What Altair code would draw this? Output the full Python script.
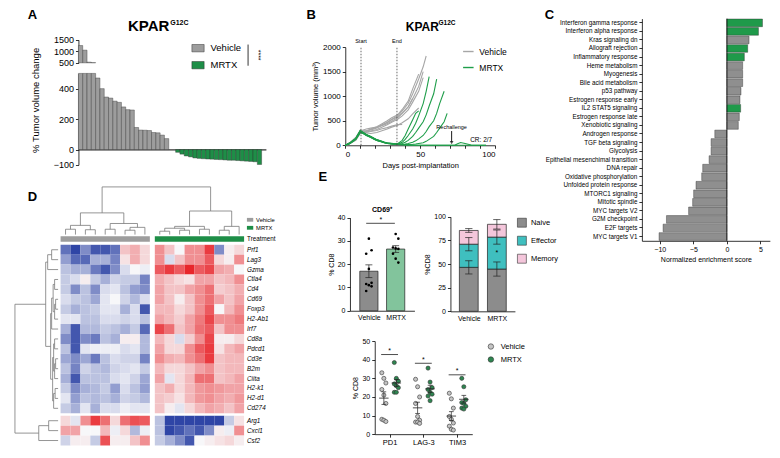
import altair as alt
import pandas as pd

FONT = "Liberation Sans"
W, H = 764, 442


def X(rx):
    return (rx - 2) * 0.992


def Y(ry):
    return (ry - 2) * 0.962


# ---------------- DATA ----------------
# Panel A: % tumour volume change per mouse (waterfall)
a_vehicle = [1250, 1050, 530, 510, 470, 400, 345, 338, 318, 310, 280, 262, 260,
             145, 128, 127, 125, 112, 110, 95, 72]
a_mrtx = [-18, -30, -42, -48, -55, -58, -60, -62, -63, -65, -66, -68, -70, -70,
          -72, -74, -76, -78, -80, -98]

# Panel B: growth curves
b_vehicle_days = [0, 3, 7, 10, 14, 17, 21, 24, 28, 31, 35, 38, 42, 45, 49, 52, 54]
b_vehicle = [
    [0, 40, 130, 280, 300, 320, 360, 410, 470, 530, 600, 700, 850, 1050, 1350, 1600, 1820],
    [0, 50, 150, 300, 280, 330, 380, 430, 500, 560, 620, 730, 900, 1150, 1450],
    [0, 30, 110, 250, 270, 290, 320, 360, 420, 470, 530, 600, 720, 880, 1100, 1380],
    [0, 45, 140, 290, 330, 350, 370, 400, 440, 490, 560, 650, 780, 960],
    [0, 35, 100, 240, 260, 280, 300, 330, 360, 390, 420, 425],
    [0, 55, 160, 310, 250, 240, 260, 290, 330, 370, 410, 460, 540, 640, 760],
    [0, 40, 120, 260, 290, 310, 350, 400, 460, 520, 580, 660, 780, 950, 1200, 1500],
]
b_mrtx_days = [0, 3, 7, 10, 12, 14, 17, 19, 21, 24, 26, 28, 31, 33, 35, 38, 40, 42, 45,
               47, 49, 52, 54, 56, 59, 61, 63, 66, 68, 70, 73, 75, 77, 80, 84, 87, 91, 94]
b_mrtx = [
    [0, 45, 140, 300, 260, 220, 180, 150, 115, 85, 65, 48, 38, 32, 30, 100, 200, 330, 520, 650, 700],
    [0, 38, 125, 270, 245, 210, 170, 135, 105, 78, 58, 44, 34, 29, 28, 60, 120, 200, 330, 450, 600,
     850, 1100, 1400],
    [0, 42, 135, 290, 255, 215, 175, 140, 110, 80, 60, 45, 35, 28, 25, 35, 60, 100, 180, 260, 350,
     480, 620, 800, 1050, 1350],
    [0, 35, 120, 260, 240, 205, 165, 130, 100, 72, 52, 38, 28, 22, 20, 20, 25, 35, 60, 90, 130,
     200, 280, 380, 500, 650, 850, 1100],
    [0, 40, 130, 280, 250, 210, 170, 138, 108, 78, 56, 40, 30, 24, 20, 15, 15, 15, 20, 25, 35,
     50, 80, 120, 180, 260, 350, 480, 650],
    [0, 44, 138, 295, 258, 218, 178, 142, 112, 82, 60, 44, 32, 25, 18, 12, 8, 5, 3, 2, 0,
     0, 0, 0, 0, 0, 0, 0, 0, 0, 0, 30, 55, 35, 5, 0, 0, 0],
    [0, 36, 122, 265, 238, 200, 160, 128, 98, 70, 50, 36, 26, 20, 15, 10, 6, 4, 2, 0, 0,
     0, 0, 0, 0, 0, 0, 0, 0, 0, 0, 0, 0, 0, 0, 0, 0, 0],
]
b_event_days = [10.5, 34.5]
b_event_labels = ["Start", "End"]
b_rechallenge_day = 71
b_cr_text = "CR: 2/7"

# Panel C: GSEA normalized enrichment scores
c_terms = ["Interferon gamma response", "Interferon alpha response", "Kras signaling dn",
           "Allograft rejection", "Inflammatory response", "Heme metabolism", "Myogenesis",
           "Bile acid metabolism", "p53 pathway", "Estrogen response early",
           "IL2 STAT5 signaling", "Estrogen response late", "Xenobiotic signaling",
           "Androgen response", "TGF beta signaling", "Glycolysis",
           "Epithelial mesenchimal transition", "DNA repair", "Oxidative phosphorylation",
           "Unfolded protein response", "MTORC1 signaling", "Mitotic spindle",
           "MYC targets V2", "G2M checkpoint", "E2F targets", "MYC targets V1"]
c_nes = [5.3, 4.7, 3.3, 3.1, 2.6, 2.35, 2.35, 2.35, 2.1, 1.95, 2.05, 1.85, 1.7,
         -1.8, -2.35, -2.35, -2.65, -3.6, -3.75, -4.6, -4.95, -5.1, -5.7, -9.0, -9.5, -10.1]
c_green_terms = ["Interferon gamma response", "Interferon alpha response", "Allograft rejection",
                 "Inflammatory response", "IL2 STAT5 signaling"]

# Panel D: heatmap z-scores (rows = genes, 9 vehicle + 9 MRTX columns)
d_genes = ["Prf1", "Lag3", "Gzma", "Ctla4", "Cd4", "Cd69", "Foxp3", "H2-Ab1", "Irf7", "Cd8a",
           "Pdcd1", "Cd3e", "B2m", "Ciita", "H2-k1", "H2-d1", "Cd274", "Arg1", "Cxcl1", "Csf2"]
d_vehicle = [
    [-1.5, -2.0, -1.2, -1.8, -1.8, -1.5, 0.5, 0.7, 0.3],
    [-1.0, -1.6, -1.6, -0.8, -0.8, -1.3, 0.2, 0.7, 0.3],
    [-0.6, -0.8, -0.8, -1.4, -1.8, -1.2, -0.3, 0.0, -0.1],
    [-0.5, -0.3, 0.1, -0.5, -0.8, -0.4, -0.5, -0.5, -1.3],
    [-0.5, -1.2, -0.6, -1.2, -0.3, -0.2, -0.6, -1.0, -1.2],
    [-0.3, -0.5, -0.6, -0.9, -0.2, 0.0, -0.4, -0.7, -0.3],
    [-0.5, -0.8, -0.6, -0.5, -0.2, -0.2, -0.8, -0.3, -1.8],
    [-0.2, -0.2, -0.6, -0.6, -0.3, -0.3, -0.4, -0.3, -0.6],
    [-0.8, -1.8, -0.7, -0.7, -0.5, -0.6, -0.8, -0.5, -1.6],
    [-1.2, -1.8, -1.2, -1.4, -0.6, -0.8, 0.1, 0.1, -0.7],
    [-0.6, -1.8, -0.2, -0.1, -0.1, -0.1, -0.3, -0.2, -0.7],
    [-0.9, -1.2, -0.9, -1.4, -0.6, -0.3, -0.4, -0.4, -1.3],
    [-0.6, -1.3, -0.4, -0.6, -0.7, -0.4, -0.3, -0.2, -0.5],
    [-0.8, -1.8, -0.6, -0.6, -0.6, -0.3, -0.2, -0.4, -0.9],
    [-0.5, -1.2, -0.8, -0.7, -0.5, -1.0, -0.3, -0.6, -1.0],
    [-0.2, -1.0, -0.6, -0.7, -0.6, -0.8, -0.4, -0.5, -0.7],
    [-0.5, -0.8, -0.2, -0.8, -0.3, -0.3, -0.1, -0.2, -0.2],
    [0.3, -0.2, 1.0, 1.8, 1.3, 0.3, 1.3, 1.6, 1.5],
    [0.8, 0.8, 0.0, 0.0, 0.6, -0.1, 0.3, -0.7, -0.1],
    [-0.4, 0.1, 0.1, -0.5, 1.6, 0.1, 0.1, 0.5, 1.0],
]
d_mrtx = [
    [1.0, 0.5, 0.0, 1.0, 1.0, 1.8, -1.2, 0.1, 0.3],
    [1.0, -0.3, 0.5, 1.0, 1.0, 1.5, 0.3, 0.1, 1.0],
    [1.5, 1.8, 1.5, 2.0, 1.5, 1.7, 0.8, 0.7, 0.0],
    [0.7, 0.5, 0.3, 0.2, 0.8, 0.8, 0.5, 0.6, 1.0],
    [0.8, 0.5, 0.5, 0.8, 1.0, 1.3, 0.4, 0.5, 0.7],
    [0.8, 0.5, 0.1, 0.5, 1.0, 1.3, 0.8, 0.5, 0.8],
    [0.6, 0.6, 0.3, 0.5, 1.0, 1.5, 0.0, 0.6, 1.0],
    [0.8, 0.6, 0.4, 0.8, 1.2, 1.7, 1.0, 1.0, 1.2],
    [1.7, 1.3, 0.5, 0.8, 1.3, 1.5, 0.5, 1.0, 1.0],
    [0.6, 0.3, -0.3, 0.4, 1.0, 1.7, 0.1, 0.1, 0.3],
    [0.8, 0.3, 0.3, 1.0, 1.5, 1.8, 0.2, 0.6, 0.8],
    [1.0, 0.7, 0.6, 1.0, 1.3, 1.8, 0.5, 0.6, 0.6],
    [0.6, 0.3, 0.3, 0.5, 0.8, 1.0, 0.5, 0.6, 0.6],
    [0.8, -0.2, 0.3, 0.6, 1.3, 1.3, 0.5, 0.6, 0.8],
    [0.5, 0.7, 0.3, 0.6, 0.9, 1.0, 0.9, 0.8, 0.8],
    [0.5, 0.4, 0.2, 0.6, 0.9, 1.0, 0.8, 0.7, 0.9],
    [0.5, 0.1, -0.2, 0.3, 0.6, 0.8, 0.7, 0.5, 0.8],
    [-0.6, -2.0, -2.0, -2.0, -2.0, -2.0, -2.0, -0.5, 0.2],
    [-0.6, -2.0, -1.8, -1.5, -1.8, -1.2, 0.1, -0.1, 1.0],
    [-0.5, -0.8, -1.2, -1.8, 0.0, 0.1, 0.2, 0.3, 0.1],
]
# dendrograms: (child a, child b, merge height)
d_row_merges = [(0, 1, -0.9), (20, 2, -1.3), (3, 4, -0.6), (5, 6, -0.5), (23, 7, -0.6),
                (22, 24, -0.75), (25, 8, -0.9), (9, 10, -0.6), (11, 12, -0.5), (28, 13, -0.6),
                (27, 29, -0.7), (14, 15, -0.55), (31, 16, -0.7), (30, 32, -0.8), (26, 33, -1.0),
                (21, 34, -1.5), (17, 18, -1.2), (36, 19, -2.2), (35, 37, -4.6)]
d_col_merges = [(0, 1, -2.07), (2, 3, -2.02), (4, 5, -2.07), (6, 7, -1.97), (21, 8, -2.26),
                (18, 19, -2.46), (20, 22, -2.65), (23, 24, -3.72),
                (9, 10, -1.87), (11, 12, -1.97), (26, 27, -2.17), (13, 14, -2.07),
                (28, 29, -2.36), (15, 16, -1.97), (31, 17, -2.36), (30, 32, -3.91),
                (25, 33, -6.34)]

# Panel E
e1_groups = ["Vehicle", "MRTX"]
e1_vehicle = [31, 26, 24.5, 18, 12, 11.5, 11, 10.5, 8.5]
e1_mrtx = [33, 31, 27.2, 26.8, 26.6, 24.5, 22.4, 20.7]

e2_subsets = ["Naive", "Effector", "Memory"]
e2_vehicle_mean = [46.5, 24.5, 14.5]
e2_vehicle_sem = [7, 7, 2]
e2_mrtx_mean = [44.7, 33.8, 13.5]
e2_mrtx_sem = [7.5, 7.5, 5]

e3_markers = ["PD1", "LAG-3", "TIM3"]
e3_vehicle = [[33, 30, 27.5, 24, 21, 16.5, 8, 7.5, 6.8],
              [29.5, 25.5, 20, 16.5, 9.5, 7.5, 6.5, 6.5, 5.8],
              [22, 19, 14, 9.5, 8, 6, 4.3, 2.6, 2.2]]
e3_mrtx = [[38.5, 30, 28.5, 27, 26, 25, 22.5, 22.5],
           [35.5, 28, 25, 24, 22.5, 21.5, 20.5, 18],
           [30, 25.5, 18.5, 17, 16.5, 15, 14, 13.5]]
e3_sig_heights = [42.8, 38.1, 31.9]

GRAY = "#9d9d9d"
GREEN = "#1e8e47"
RECT_SYMBOL = "M-1,-0.6H1V0.6H-1Z"


# ---------------- helpers ----------------
def axis(orient, offset, values=None, title=None, fs=7.5, **kw):
    a = dict(orient=orient, offset=offset, title=title, labelFontSize=fs, format="d")
    if values is not None:
        a["values"] = values
    a.update(kw)
    return alt.Axis(**a)


def label(s, rx, ry, size, bold=False, align="left", baseline="alphabetic", angle=0, italic=False):
    kw = dict(font=FONT, fontSize=size, align=align, baseline=baseline, color="black")
    if bold:
        kw["fontWeight"] = "bold"
    if italic:
        kw["fontStyle"] = "italic"
    if angle:
        kw["angle"] = angle
    return alt.Chart(pd.DataFrame({"t": [s]})).mark_text(**kw).encode(
        text="t:N", x=alt.value(X(rx)), y=alt.value(Y(ry)))


def vline(rx, ry1, ry2, color="black", width=0.8):
    return alt.Chart(pd.DataFrame({"k": [0]})).mark_rule(color=color, strokeWidth=width).encode(
        x=alt.value(X(rx)), y=alt.value(Y(ry1)), y2=alt.value(Y(ry2)))


layers = []

# ---------------- Panel A ----------------
va = pd.DataFrame({"group": "Vehicle", "value": a_vehicle, "slot": list(range(len(a_vehicle)))})
ma = pd.DataFrame({"group": "MRTX", "value": a_mrtx,
                   "slot": [len(a_vehicle) + 1.6 + j for j in range(len(a_mrtx))]})
dfA = pd.concat([va, ma], ignore_index=True)
dfA["slot_end"] = dfA["slot"] + 1

ax_scale = alt.Scale(domain=[0, 43.6], range=[X(73), X(262)], nice=False, zero=False)
a_color = alt.Scale(domain=["Vehicle", "MRTX"], range=[GRAY, GREEN])

a_low = alt.Chart(dfA).transform_calculate(base="0").mark_bar(stroke="#333", strokeWidth=0.4).encode(
    x=alt.X("slot:Q", scale=ax_scale, axis=axis("bottom", Y(149) - H, ticks=False, labels=False,
                                                 domainWidth=1)),
    x2="slot_end:Q",
    y=alt.Y("value:Q", scale=alt.Scale(domain=[-100, 500], range=[Y(165), Y(70)], clamp=True,
                                       nice=False, zero=False),
            axis=axis("left", -X(73), values=[-100, 0, 200, 400], fs=9)),
    y2="base:Q",
    color=alt.Color("group:N", scale=a_color,
                    legend=alt.Legend(orient="none", legendX=X(187), legendY=Y(37), title=None,
                                      symbolType=RECT_SYMBOL, symbolSize=150, labelFontSize=9.5,
                                      rowPadding=5, symbolStrokeColor="#333", symbolStrokeWidth=0.5,
                                      padding=0, labelOffset=6)),
)
a_up = alt.Chart(dfA).transform_filter("datum.value > 500").transform_calculate(base="500").mark_bar(
    stroke="#333", strokeWidth=0.4).encode(
    x=alt.X("slot:Q", scale=ax_scale, axis=None),
    x2="slot_end:Q",
    y=alt.Y("value:Q", scale=alt.Scale(domain=[500, 1500], range=[Y(59), Y(35)], clamp=True,
                                       nice=False, zero=False),
            axis=axis("left", -X(73), values=[500, 1000, 1500], fs=9)),
    y2="base:Q",
    color=alt.Color("group:N", scale=a_color, legend=None),
)
layers += [a_low, a_up,
           label("A", 22, 13.5, 13, bold=True),
           label("KPAR", 123, 26, 15, bold=True),
           label("G12C", 165.5, 20, 7, bold=True),
           label("% Tumor volume change", 30, 98, 9.5, align="center", baseline="middle", angle=270),
           vline(244, 40, 62),
           label("****", 254, 51, 7, align="center", baseline="middle", angle=90)]

# ---------------- Panel B ----------------
rows = []
for k, vols in enumerate(b_vehicle):
    for d, v in zip(b_vehicle_days, vols):
        rows.append({"mouse": f"V{k}", "group": "Vehicle", "day": d, "vol": v})
for k, vols in enumerate(b_mrtx):
    for d, v in zip(b_mrtx_days, vols):
        rows.append({"mouse": f"M{k}", "group": "MRTX", "day": d, "vol": v})
dfB = pd.DataFrame(rows)

bxs = alt.Scale(domain=[0, 100], range=[X(342), X(493)], nice=False, zero=False)
bys = alt.Scale(domain=[0, 2000], range=[Y(144.7), Y(42.7)], nice=False, zero=False)
bxa = axis("bottom", Y(144.7) - H, values=list(range(0, 101, 10)),
           labelExpr="datum.value % 50 == 0 ? datum.label : ''",
           title="Days post-implantation", fs=8, titleFontSize=7.5)
bya = axis("left", -X(342), values=[0, 500, 1000, 1500, 2000],
           title="Tumor volume (mm³)", fs=8, titleFontSize=7.5)


def bx(f):
    return alt.X(f, scale=bxs, axis=bxa)


def by(f):
    return alt.Y(f, scale=bys, axis=bya)


b_lines = alt.Chart(dfB).mark_line(strokeWidth=1.1).encode(
    x=bx("day:Q"), y=by("vol:Q"), detail="mouse:N",
    color=alt.Color("group:N", scale=alt.Scale(domain=["Vehicle", "MRTX"], range=["#a6a6a6", "#1f9e4a"]),
                    legend=alt.Legend(orient="none", legendX=X(460), legendY=Y(41), title=None,
                                      symbolType="stroke", symbolStrokeWidth=1.4, symbolSize=110,
                                      labelFontSize=8.5, rowPadding=5, padding=0, labelOffset=5)),
)
dfBev = pd.DataFrame({"day": b_event_days, "lab": b_event_labels, "y0": 0, "y1": 2000, "yt": 2075})
b_ev = alt.Chart(dfBev).mark_rule(strokeDash=[1.5, 1.5], color="#444", strokeWidth=0.8).encode(
    x=bx("day:Q"), y=by("y0:Q"), y2="y1:Q")
b_evt = alt.Chart(dfBev).mark_text(fontSize=5.5, font=FONT, baseline="alphabetic").encode(
    x=bx("day:Q"), y=by("yt:Q"), text="lab:N")
dfRe = pd.DataFrame({"day": [b_rechallenge_day], "top": [290], "bot": [70], "head": [55],
                     "ty": [330], "lab": ["Rechallenge"]})
b_arrow = alt.Chart(dfRe).mark_rule(color="black", strokeWidth=0.9).encode(
    x=bx("day:Q"), y=by("top:Q"), y2="bot:Q")
b_head = alt.Chart(dfRe).mark_point(shape="triangle-down", filled=True, size=14, color="black").encode(
    x=bx("day:Q"), y=by("head:Q"))
b_ret = alt.Chart(dfRe).mark_text(fontSize=5.5, font=FONT, baseline="alphabetic").encode(
    x=bx("day:Q"), y=by("ty:Q"), text="lab:N")
dfCR = pd.DataFrame({"day": [90.7], "y": [70], "lab": [b_cr_text]})
b_cr = alt.Chart(dfCR).mark_text(fontSize=6.5, font=FONT, baseline="alphabetic").encode(
    x=bx("day:Q"), y=by("y:Q"), text="lab:N")
layers += [alt.layer(b_lines, b_ev, b_evt, b_arrow, b_head, b_ret, b_cr),
           label("B", 303, 13.5, 13, bold=True),
           label("KPAR", 403, 26, 12, bold=True),
           label("G12C", 436, 20, 6.5, bold=True)]

# ---------------- Panel C ----------------
dfC = pd.DataFrame({"term": c_terms, "nes": c_nes})
dfC["hl"] = ["up" if t in c_green_terms else "other" for t in c_terms]
cys = alt.Scale(domain=c_terms, range=[Y(13), Y(244)], paddingInner=0.1, paddingOuter=0.05)
cxs = alt.Scale(domain=[-12.66, 6.4], range=[X(641), X(770)], nice=False, zero=False)
cxa = axis("bottom", Y(244) - H, values=[-10, -5, 0, 5], title="Normalized enrichment score",
           fs=7, titleFontSize=7)
c_bars = alt.Chart(dfC).transform_calculate(zero="0").mark_bar(stroke="#2a2a2a", strokeWidth=0.4).encode(
    y=alt.Y("term:N", sort=c_terms, scale=cys,
            axis=alt.Axis(orient="left", offset=-X(641), title=None, labelFontSize=6.3,
                          labelLimit=300, tickSize=3)),
    x=alt.X("nes:Q", scale=cxs, axis=cxa),
    x2="zero:Q",
    color=alt.Color("hl:N", scale=alt.Scale(domain=["up", "other"], range=["#1f9a4a", "#8f8f8f"]),
                    legend=None),
)
c_zero = alt.Chart(pd.DataFrame({"z": [0]})).mark_rule(color="black", strokeWidth=0.8).encode(
    x=alt.X("z:Q", scale=cxs, axis=cxa), y=alt.value(Y(13)), y2=alt.value(Y(244)))
layers += [alt.layer(c_bars, c_zero), label("C", 543, 13.5, 13, bold=True)]

# ---------------- Panel D ----------------
row_pos = [float(i) for i in range(17)] + [17.25, 18.25, 19.25]
col_pos_v = [float(i) for i in range(9)]
col_pos_m = [9.5 + i for i in range(9)]
cells = []
for gi, g in enumerate(d_genes):
    for ci, v in enumerate(d_vehicle[gi]):
        cells.append({"gene": g, "x0": col_pos_v[ci], "y": row_pos[gi], "z": v})
    for ci, v in enumerate(d_mrtx[gi]):
        cells.append({"gene": g, "x0": col_pos_m[ci], "y": row_pos[gi], "z": v})
dfD = pd.DataFrame(cells)
dfD["x1"] = dfD["x0"] + 1
dfD["y0"] = dfD["y"] - 0.5
dfD["y1"] = dfD["y"] + 0.5

dxs = alt.Scale(domain=[-5.5, 22.5], range=[X(0), X(280)], nice=False, zero=False)
dys = alt.Scale(domain=[-6.63, 19.87], range=[Y(185), Y(458)], nice=False, zero=False)

d_heat = alt.Chart(dfD).mark_rect().encode(
    x=alt.X("x0:Q", scale=dxs, axis=None), x2="x1:Q",
    y=alt.Y("y0:Q", scale=dys, axis=None), y2="y1:Q",
    color=alt.Color("z:Q", scale=alt.Scale(domain=[-2, 0, 2], range=["#2f45a6", "#f7f7f9", "#e8262b"],
                                           interpolate="rgb", clamp=True), legend=None),
)


def dendro(leaf_pos, base, merges, height_is_x):
    pos = list(leaf_pos)
    hgt = [base] * len(leaf_pos)
    segs = []
    for a, b, h in merges:
        for c in (a, b):
            segs.append((hgt[c], h, pos[c], pos[c]))
        segs.append((h, h, pos[a], pos[b]))
        pos.append((pos[a] + pos[b]) / 2)
        hgt.append(h)
    out = []
    for h1, h2, p1, p2 in segs:
        if height_is_x:
            out.append({"x1": h1, "x2": h2, "y1": p1, "y2": p2})
        else:
            out.append({"x1": p1, "x2": p2, "y1": h1, "y2": h2})
    return pd.DataFrame(out)


dfRowDen = dendro(row_pos, -0.25, d_row_merges, True)
dfColDen = dendro([p + 0.5 for p in col_pos_v + col_pos_m], -1.53, d_col_merges, False)
d_den = alt.Chart(pd.concat([dfRowDen, dfColDen], ignore_index=True)).mark_rule(
    color="#7a7a7a", strokeWidth=0.8).encode(
    x=alt.X("x1:Q", scale=dxs, axis=None), x2="x2:Q",
    y=alt.Y("y1:Q", scale=dys, axis=None), y2="y2:Q")

dfTreat = pd.DataFrame({"group": ["Vehicle", "MRTX"], "x0": [col_pos_v[0], col_pos_m[0]],
                        "x1": [col_pos_v[-1] + 1, col_pos_m[-1] + 1], "y0": -1.36, "y1": -0.81})
d_treat = alt.Chart(dfTreat).mark_rect().encode(
    x=alt.X("x0:Q", scale=dxs, axis=None), x2="x1:Q",
    y=alt.Y("y0:Q", scale=dys, axis=None), y2="y1:Q",
    fill=alt.Fill("group:N", scale=alt.Scale(domain=["Vehicle", "MRTX"], range=[GRAY, GREEN]),
                  legend=alt.Legend(orient="none", legendX=X(242), legendY=Y(218), title=None,
                                    symbolType=RECT_SYMBOL, symbolSize=40, labelFontSize=5.8,
                                    rowPadding=1, padding=0, labelOffset=2)))
dfGL = pd.DataFrame({"gene": d_genes, "y": row_pos})
d_lab = alt.Chart(dfGL).mark_text(font=FONT, fontSize=6.3, fontStyle="italic", align="left",
                                  baseline="middle").encode(
    x=alt.value(X(243)), y=alt.Y("y:Q", scale=dys, axis=None), text="gene:N")
d_tlab = alt.Chart(pd.DataFrame({"t": ["Treatment"], "y": [-1.09]})).mark_text(
    font=FONT, fontSize=6.3, align="left", baseline="middle").encode(
    x=alt.value(X(243)), y=alt.Y("y:Q", scale=dys, axis=None), text="t:N")
layers += [alt.layer(d_heat, d_den, d_treat, d_lab, d_tlab), label("D", 22, 203, 13, bold=True)]

# ---------------- Panel E1: CD69+ ----------------
dfE1 = pd.DataFrame({"grp": ["Vehicle"] * len(e1_vehicle) + ["MRTX"] * len(e1_mrtx),
                     "val": e1_vehicle + e1_mrtx})
dfE1["pos"] = dfE1["grp"].map({g: i for i, g in enumerate(e1_groups)})
e1x = alt.Scale(domain=[-0.707, 1.70], range=[X(346.7), X(411.7)], nice=False, zero=False)
e1y = alt.Scale(domain=[0, 40], range=[Y(316.7), Y(220)], nice=False, zero=False)
grp_labexpr = "[" + ",".join(f"'{g}'" for g in e1_groups) + "][datum.value]"
e1xa = axis("bottom", Y(316.7) - H, values=[0, 1], labelExpr=grp_labexpr, ticks=False, fs=7,
            labelPadding=3)
e1ya = axis("left", -X(346.7), values=[0, 10, 20, 30, 40], title="% CD8", fs=7, titleFontSize=7)


def e1X(f):
    return alt.X(f, scale=e1x, axis=e1xa)


def e1Y(f):
    return alt.Y(f, scale=e1y, axis=e1ya)


e1_agg = alt.Chart(dfE1).transform_aggregate(
    m="mean(val)", s="stderr(val)", groupby=["grp", "pos"]).transform_calculate(
    x1="datum.pos - 0.34", x2="datum.pos + 0.34", c1="datum.pos - 0.13", c2="datum.pos + 0.13",
    lo="datum.m - datum.s", hi="datum.m + datum.s", zero="0")
e1_bar = e1_agg.mark_bar(stroke="#222", strokeWidth=0.7).encode(
    x=e1X("x1:Q"), x2="x2:Q", y=e1Y("m:Q"), y2="zero:Q",
    color=alt.Color("grp:N", scale=alt.Scale(domain=e1_groups, range=["#8c8c8c", "#82c49c"]), legend=None))
e1_err = e1_agg.mark_rule(color="#222", strokeWidth=0.7).encode(
    x=e1X("pos:Q"), y=e1Y("lo:Q"), y2="hi:Q")
e1_cap_hi = e1_agg.mark_rule(color="#222", strokeWidth=0.7).encode(
    x=e1X("c1:Q"), x2="c2:Q", y=e1Y("hi:Q"))
e1_cap_lo = e1_agg.mark_rule(color="#222", strokeWidth=0.7).encode(
    x=e1X("c1:Q"), x2="c2:Q", y=e1Y("lo:Q"))
e1_pts = alt.Chart(dfE1).transform_window(rn="row_number()", groupby=["grp"]).transform_calculate(
    xj="datum.pos + ((datum.rn % 3) - 1) * 0.1").mark_circle(color="black", size=7, opacity=1).encode(
    x=e1X("xj:Q"), y=e1Y("val:Q"))
dfE1s = pd.DataFrame({"a": [-0.1], "b": [0.97], "y": [37.6], "tx": [0.45], "ty": [38.3], "t": ["*"]})
e1_sig = alt.Chart(dfE1s).mark_rule(color="black", strokeWidth=0.7).encode(
    x=e1X("a:Q"), x2="b:Q", y=e1Y("y:Q"))
e1_sigt = alt.Chart(dfE1s).mark_text(font=FONT, fontSize=7, baseline="alphabetic").encode(
    x=e1X("tx:Q"), y=e1Y("ty:Q"), text="t:N")
layers += [alt.layer(e1_bar, e1_err, e1_cap_hi, e1_cap_lo, e1_pts, e1_sig, e1_sigt),
           label("E", 315, 182, 13, bold=True),
           label("CD69⁺", 379, 214, 7, bold=True, align="center")]

# ---------------- Panel E2: stacked subsets ----------------
rows = []
for gi, (g, means, sems) in enumerate([("Vehicle", e2_vehicle_mean, e2_vehicle_sem),
                                       ("MRTX", e2_mrtx_mean, e2_mrtx_sem)]):
    top = 0.0
    for s, m, e in zip(e2_subsets, means, sems):
        rows.append({"grp": g, "pos": gi, "subset": s, "bottom": top, "top": top + m,
                     "lo": top + m - e, "hi": top + m + e})
        top += m
dfE2 = pd.DataFrame(rows)
e2x = alt.Scale(domain=[-0.654, 1.643], range=[X(448), X(513)], nice=False, zero=False)
e2y = alt.Scale(domain=[0, 100], range=[Y(317.3), Y(219)], nice=False, zero=False)
e2xa = axis("bottom", Y(317.3) - H, values=[0, 1], labelExpr=grp_labexpr, ticks=False, fs=7,
            labelPadding=3)
e2ya = axis("left", -X(448), values=[0, 25, 50, 75, 100], title="%CD8", fs=7, titleFontSize=7)


def e2X(f):
    return alt.X(f, scale=e2x, axis=e2xa)


def e2Y(f):
    return alt.Y(f, scale=e2y, axis=e2ya)


e2b = alt.Chart(dfE2).transform_calculate(
    x1="datum.pos - 0.335", x2="datum.pos + 0.335", c1="datum.pos - 0.13", c2="datum.pos + 0.13")
e2_bar = e2b.mark_bar(stroke="#222", strokeWidth=0.7).encode(
    x=e2X("x1:Q"), x2="x2:Q", y=e2Y("bottom:Q"), y2="top:Q",
    color=alt.Color("subset:N", scale=alt.Scale(domain=e2_subsets, range=["#8c8c8c", "#3fbfbf", "#f4c6db"]),
                    legend=alt.Legend(orient="none", legendX=X(515), legendY=Y(220), title=None,
                                      symbolType="square", symbolSize=80, labelFontSize=7.5,
                                      rowPadding=6, symbolStrokeColor="#333", symbolStrokeWidth=0.6,
                                      padding=0, labelOffset=4)))
e2_err = e2b.mark_rule(color="#222", strokeWidth=0.7).encode(
    x=e2X("pos:Q"), y=e2Y("lo:Q"), y2="hi:Q")
e2_cap_hi = e2b.mark_rule(color="#222", strokeWidth=0.7).encode(
    x=e2X("c1:Q"), x2="c2:Q", y=e2Y("hi:Q"))
e2_cap_lo = e2b.mark_rule(color="#222", strokeWidth=0.7).encode(
    x=e2X("c1:Q"), x2="c2:Q", y=e2Y("lo:Q"))
dfE2s = pd.DataFrame({"x": [1.0], "y": [62], "t": ["*"]})
e2_sig = alt.Chart(dfE2s).mark_text(font=FONT, fontSize=7, baseline="middle").encode(
    x=e2X("x:Q"), y=e2Y("y:Q"), text="t:N")
layers += [alt.layer(e2_bar, e2_err, e2_cap_hi, e2_cap_lo, e2_sig)]

# ---------------- Panel E3: checkpoint markers ----------------
rows = []
for mi, mk in enumerate(e3_markers):
    for g, vals, off in [("Vehicle", e3_vehicle[mi], -0.17), ("MRTX", e3_mrtx[mi], 0.2)]:
        for k, v in enumerate(vals):
            rows.append({"marker": mk, "grp": g, "center": mi + off,
                         "xj": mi + off + ((k % 3) - 1) * 0.06, "val": v})
dfE3 = pd.DataFrame(rows)
e3x = alt.Scale(domain=[-0.44, 2.45], range=[X(371.7), X(470)], nice=False, zero=False)
e3y = alt.Scale(domain=[0, 50], range=[Y(445), Y(348.3)], nice=False, zero=False)
e3_labexpr = "[" + ",".join(f"'{m}'" for m in e3_markers) + "][datum.value]"
e3xa = axis("bottom", Y(445) - H, values=[0, 1, 2], labelExpr=e3_labexpr, fs=7.5, labelPadding=1)
e3ya = axis("left", -X(371.7), values=[0, 10, 20, 30, 40, 50], title="% CD8", fs=7, titleFontSize=7)


def e3X(f):
    return alt.X(f, scale=e3x, axis=e3xa)


def e3Y(f):
    return alt.Y(f, scale=e3y, axis=e3ya)


e3_pts = alt.Chart(dfE3).mark_circle(size=17, stroke="#333", strokeWidth=0.6, opacity=1).encode(
    x=e3X("xj:Q"), y=e3Y("val:Q"),
    fill=alt.Fill("grp:N", scale=alt.Scale(domain=["Vehicle", "MRTX"], range=["#c4c4c4", "#2e8550"]),
                  legend=alt.Legend(orient="none", legendX=X(485), legendY=Y(350), title=None,
                                    symbolType="circle", symbolSize=30, labelFontSize=7.5,
                                    rowPadding=4, symbolStrokeColor="#333", symbolStrokeWidth=0.6,
                                    padding=0, labelOffset=6)))
e3_agg = alt.Chart(dfE3).transform_aggregate(
    m="mean(val)", s="stderr(val)", groupby=["marker", "grp", "center"]).transform_calculate(
    m1="datum.center - 0.14", m2="datum.center + 0.14", c1="datum.center - 0.07",
    c2="datum.center + 0.07", lo="datum.m - datum.s", hi="datum.m + datum.s")
e3_mean = e3_agg.mark_rule(color="#222", strokeWidth=0.8).encode(
    x=e3X("m1:Q"), x2="m2:Q", y=e3Y("m:Q"))
e3_err = e3_agg.mark_rule(color="#222", strokeWidth=0.7).encode(
    x=e3X("center:Q"), y=e3Y("lo:Q"), y2="hi:Q")
e3_cap_hi = e3_agg.mark_rule(color="#222", strokeWidth=0.7).encode(
    x=e3X("c1:Q"), x2="c2:Q", y=e3Y("hi:Q"))
e3_cap_lo = e3_agg.mark_rule(color="#222", strokeWidth=0.7).encode(
    x=e3X("c1:Q"), x2="c2:Q", y=e3Y("lo:Q"))
dfE3s = pd.DataFrame({"a": [i - 0.25 for i in range(3)], "b": [i + 0.25 for i in range(3)],
                      "c": [float(i) for i in range(3)], "y": e3_sig_heights,
                      "ty": [h + 0.8 for h in e3_sig_heights], "t": ["*"] * 3})
e3_sig = alt.Chart(dfE3s).mark_rule(color="black", strokeWidth=0.7).encode(
    x=e3X("a:Q"), x2="b:Q", y=e3Y("y:Q"))
e3_sigt = alt.Chart(dfE3s).mark_text(font=FONT, fontSize=7, baseline="alphabetic").encode(
    x=e3X("c:Q"), y=e3Y("ty:Q"), text="t:N")
layers += [alt.layer(e3_pts, e3_mean, e3_err, e3_cap_hi, e3_cap_lo, e3_sig, e3_sigt)]

chart = alt.layer(*layers).resolve_scale(
    x="independent", y="independent", color="independent", fill="independent"
).properties(
    width=W, height=H, padding=0, autosize=alt.AutoSizeParams(type="none")
).configure(font=FONT).configure_view(stroke=None).configure_axis(
    labelFont=FONT, titleFont=FONT, grid=False, domainColor="black", tickColor="black",
    labelColor="black", titleColor="black", titleFontWeight="normal", tickSize=3,
    domainWidth=0.8, tickWidth=0.8, labelPadding=2, titlePadding=3
).configure_legend(labelFont=FONT, labelColor="black")

chart.save("out.html", embed_options={"renderer": "svg", "actions": False})
